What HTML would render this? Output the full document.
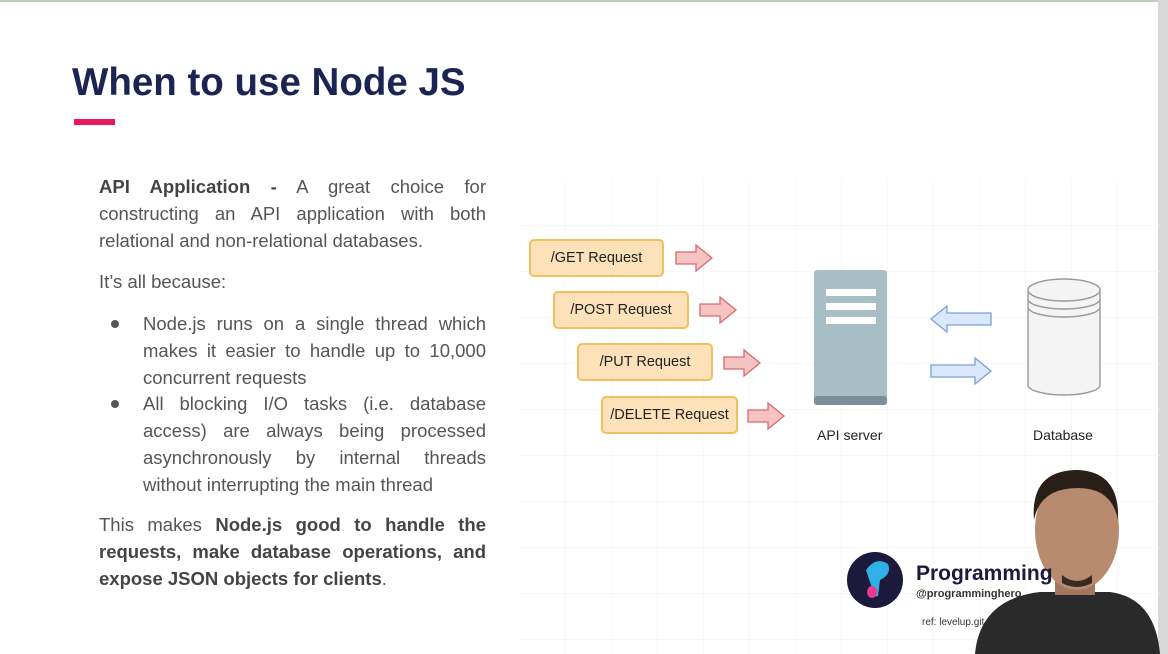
<!DOCTYPE html>
<html><head><style>
body{margin:0;width:1168px;height:654px;overflow:hidden;background:#fff;font-family:"Liberation Sans",sans-serif;position:relative}
.abs{position:absolute}
h1{position:absolute;left:72px;top:61px;margin:0;font-size:38.5px;color:#1b2553;font-weight:bold}
.txt{position:absolute;left:99px;width:387px;font-size:18.5px;line-height:27px;color:#555;text-align:justify}
.txt b{color:#444}
.req{position:absolute;height:38px;border:2px solid #f0c060;background:#fde1b8;border-radius:5px;font-size:14.5px;color:#222;display:flex;align-items:center;justify-content:center;box-sizing:border-box}
</style></head><body>
<div class="abs" style="left:0;top:0;width:1168px;height:2px;background:#b8d0b8"></div>
<div class="abs" style="left:1158px;top:0;width:10px;height:654px;background:#d8d8d8"></div>
<svg class="abs" style="left:520px;top:180px" width="640" height="474">
<defs><pattern id="g" width="46" height="46" patternUnits="userSpaceOnUse"><path d="M46 0V46H0" fill="none" stroke="#f2f2f2" stroke-width="1"/></pattern></defs>
<rect width="640" height="474" fill="url(#g)"/>
</svg>
<h1>When to use Node JS</h1>
<div class="abs" style="left:74px;top:119px;width:41px;height:6px;background:#e8185a"></div>
<div class="txt" style="top:173px"><b>API Application -</b> A great choice for constructing an API application with both relational and non-relational databases.</div>
<div class="txt" style="top:268px">It’s all because:</div>
<div class="txt" style="top:310px;left:143px;width:343px">Node.js runs on a single thread which makes it easier to handle up to 10,000 concurrent requests</div>
<div class="txt" style="top:390px;left:143px;width:343px">All blocking I/O tasks (i.e. database access) are always being processed asynchronously by internal threads without interrupting the main thread</div>
<div class="abs" style="left:111px;top:320px;width:8px;height:8px;border-radius:50%;background:#555"></div>
<div class="abs" style="left:111px;top:400px;width:8px;height:8px;border-radius:50%;background:#555"></div>
<div class="txt" style="top:511px">This makes <b>Node.js good to handle the requests, make database operations, and expose JSON objects for clients</b>.</div>

<div class="req" style="left:529px;top:239px;width:135px">/GET Request</div>
<div class="req" style="left:553px;top:291px;width:136px">/POST Request</div>
<div class="req" style="left:577px;top:343px;width:136px">/PUT Request</div>
<div class="req" style="left:601px;top:396px;width:137px">/DELETE Request</div>
<svg class="abs" style="left:0;top:0" width="1168" height="654">
<g fill="#f6c3c3" stroke="#d9696e" stroke-width="1.3">
<path d="M676 252h20v-7l16 13-16 13v-7h-20z"/>
<path d="M700 304h20v-7l16 13-16 13v-7h-20z"/>
<path d="M724 357h20v-7l16 13-16 13v-7h-20z"/>
<path d="M748 410h20v-7l16 13-16 13v-7h-20z"/>
</g>
<g fill="#dbe8fb" stroke="#7a9fd6" stroke-width="1.3">
<path d="M991 313h-44v-7l-16 13 16 13v-7h44z"/>
<path d="M931 365h44v-7l16 13-16 13v-7h-44z"/>
</g>
<rect x="814" y="270" width="73" height="135" rx="3" fill="#a7bec6"/>
<rect x="814" y="396" width="73" height="9" rx="3" fill="#7d8f96"/>
<rect x="826" y="289" width="50" height="7" fill="#fff"/>
<rect x="826" y="303" width="50" height="7" fill="#fff"/>
<rect x="826" y="317" width="50" height="7" fill="#fff"/>
<path d="M1028 290v95a36 10 0 0 0 72 0v-95" fill="#f4f4f4" stroke="#999" stroke-width="1.4"/>
<ellipse cx="1064" cy="290" rx="36" ry="11" fill="#f4f4f4" stroke="#999" stroke-width="1.4"/>
<path d="M1028 299a36 10 0 0 0 72 0M1028 307a36 10 0 0 0 72 0" fill="none" stroke="#999" stroke-width="1.4"/>
<circle cx="875" cy="580" r="28" fill="#1c1a3c"/>
<path d="M866 570q10-14 22-6q4 10-8 16l-2 16q-8 2-6-8z" fill="#2fb0e8"/>
<ellipse cx="872" cy="592" rx="5" ry="6" fill="#e83a8f"/>
<path d="M975 654q5-55 65-62h70q45 6 50 62z" fill="#2a2a2a"/>
<rect x="1055" y="560" width="40" height="35" fill="#a27660"/>
<ellipse cx="1077" cy="530" rx="42" ry="60" fill="#b88a6e"/>
<path d="M1034 520q-4-50 44-50q42 2 40 50q-6-32-40-32q-38 0-44 32z" fill="#2a1e18"/>
<path d="M1062 575q15 12 30 0v8q-15 8-30 0z" fill="#3a2a22"/>
</svg>
<div class="abs" style="left:817px;top:427px;font-size:14px;color:#222">API server</div>
<div class="abs" style="left:1033px;top:427px;font-size:14px;color:#222">Database</div>
<div class="abs" style="left:916px;top:562px;font-size:21px;font-weight:bold;color:#1c1a3c">Programming</div>
<div class="abs" style="left:916px;top:588px;font-size:11px;font-weight:bold;color:#333">@programminghero</div>
<div class="abs" style="left:922px;top:617px;font-size:10px;color:#333">ref: levelup.git</div>
</body></html>
